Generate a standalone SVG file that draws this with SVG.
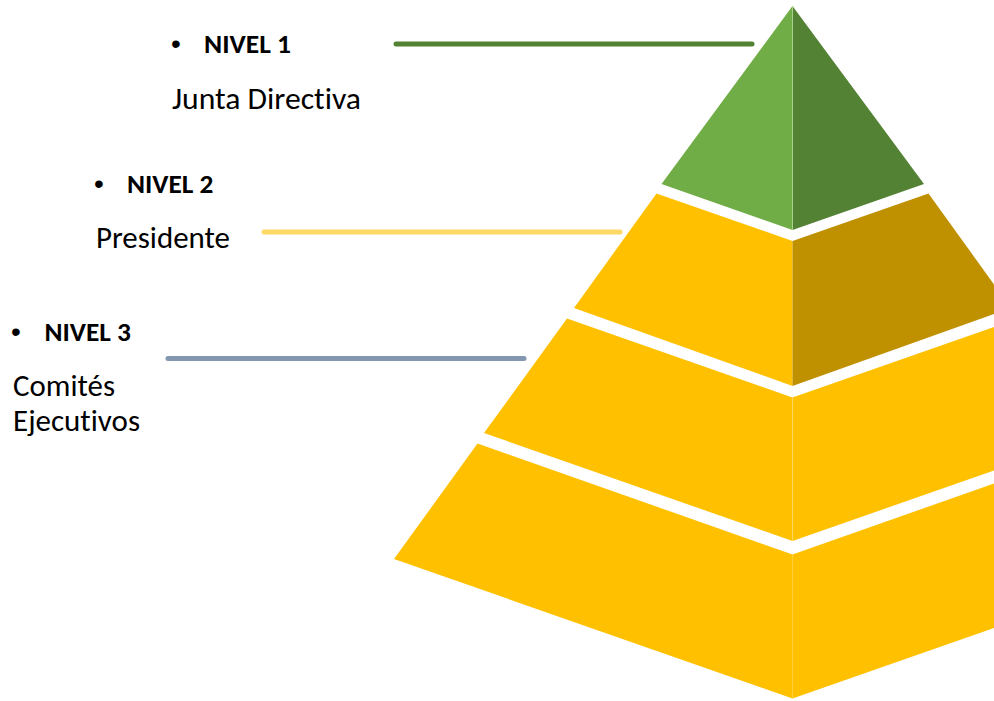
<svg xmlns="http://www.w3.org/2000/svg" width="994" height="701" viewBox="0 0 994 701">
<style>
.lbl{font-family:Carlito,Lato,"Liberation Sans",sans-serif;font-size:31px;fill:#000;font-variant-ligatures:none}
.hd{font-family:Carlito,Lato,"Liberation Sans",sans-serif;font-size:27px;font-weight:bold;fill:#000;font-variant-ligatures:none}
.bul{font-family:"Liberation Sans",Arial,sans-serif;font-size:28px;fill:#000}
.conn{fill:none;stroke-width:5;stroke-linecap:round}
.seam{stroke-width:1;fill:none}
</style>
<rect width="994" height="701" fill="#ffffff"/>
<g id="pyramid">
  <g id="tier1">
    <polygon points="792.5,6 661.5,184 792.5,230" fill="#70AD47"/>
    <polygon points="792.5,6 924,184 792.5,230" fill="#548235"/>
    <line class="seam" x1="792.5" y1="6" x2="792.5" y2="230" stroke="#A9D18E"/>
  </g>
  <g id="tier2">
    <polygon points="656.5,193.5 792.5,241 792.5,386 574,308" fill="#FFC000"/>
    <polygon points="928.5,193.5 792.5,241 792.5,386 1011,308" fill="#BF9000"/>
  </g>
  <g id="tier3">
    <polygon points="567,318.5 792.5,397.5 1018,318.5 1101,433 792.5,541 484,433" fill="#FFC000"/>
    <line class="seam" x1="792.5" y1="397.5" x2="792.5" y2="541" stroke="#FFD966"/>
  </g>
  <g id="tier4">
    <polygon points="477.5,443.5 792.5,554.5 1107.5,443.5 1191,559 792.5,698.5 394,559" fill="#FFC000"/>
    <line class="seam" x1="792.5" y1="554.5" x2="792.5" y2="698.5" stroke="#FFD966" stroke-opacity="0.6"/>
  </g>
</g>
<g id="connectors">
  <line class="conn" x1="396" y1="44" x2="752" y2="44" stroke="#548235"/>
  <line class="conn" x1="264" y1="232" x2="620" y2="232" stroke="#FFD966"/>
  <line class="conn" x1="168" y1="358.5" x2="524" y2="358.5" stroke="#8497B0"/>
</g>
<g id="level1">
  <text class="bul" x="171" y="53">•</text>
  <text class="hd" x="204" y="53" textLength="87" lengthAdjust="spacingAndGlyphs">NIVEL 1</text>
  <text class="lbl" x="172" y="109" textLength="189" lengthAdjust="spacingAndGlyphs">Junta Directiva</text>
</g>
<g id="level2">
  <text class="bul" x="94" y="192.5">•</text>
  <text class="hd" x="127" y="192.5" textLength="86.5" lengthAdjust="spacingAndGlyphs">NIVEL 2</text>
  <text class="lbl" x="96" y="247.5" textLength="134" lengthAdjust="spacingAndGlyphs">Presidente</text>
</g>
<g id="level3">
  <text class="bul" x="11" y="340.5">•</text>
  <text class="hd" x="44.5" y="340.5" textLength="86.5" lengthAdjust="spacingAndGlyphs">NIVEL 3</text>
  <text class="lbl" x="13" y="395.5" textLength="102" lengthAdjust="spacingAndGlyphs">Comités</text>
  <text class="lbl" x="13" y="430.5" textLength="127" lengthAdjust="spacingAndGlyphs">Ejecutivos</text>
</g>
</svg>
